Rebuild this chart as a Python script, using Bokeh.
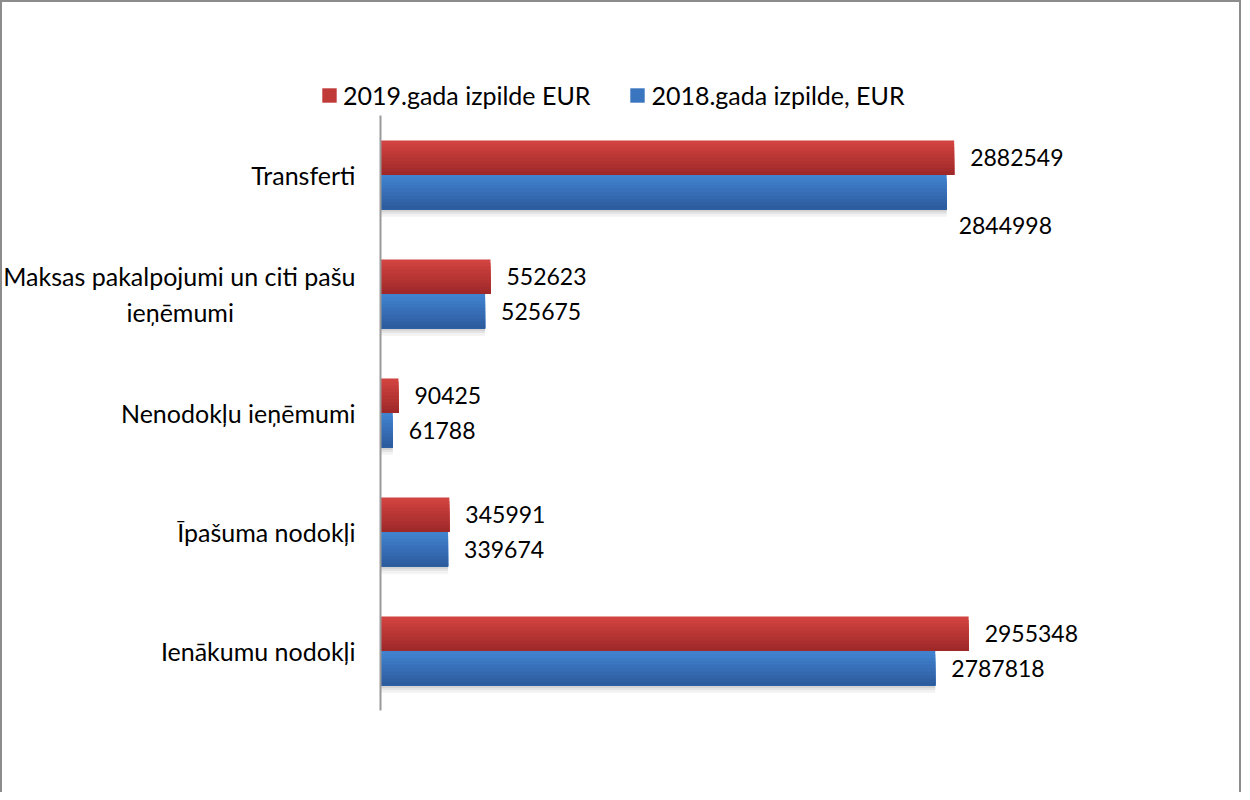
from bokeh.plotting import figure
from bokeh.models import ColumnDataSource, Legend, LegendItem, Range1d, FixedTicker
from bokeh.transform import dodge
from bokeh.core.properties import value
from bokeh.embed import file_html
from bokeh.resources import INLINE

# ---------------- data ----------------
categories = [
    "Transferti",
    "Maksas pakalpojumi un citi pašu\nieņēmumi",
    "Nenodokļu ieņēmumi",
    "Īpašuma nodokļi",
    "Ienākumu nodokļi",
]
values_2019 = [2882549, 552623, 90425, 345991, 2955348]
values_2018 = [2844998, 525675, 61788, 339674, 2787818]
series_names = ["2019.gada izpilde EUR", "2018.gada izpilde, EUR"]

# ---------------- styles ----------------
FONT = "Lato"
red_top, red_bot = (212, 68, 65), (156, 40, 40)
blue_top, blue_bot = (66, 132, 210), (44, 90, 156)
BAR_H = 0.29
N_BANDS = 10
NBSP = "\u00a0"

def mix(c1, c2, t):
    return "#%02x%02x%02x" % tuple(int(round(a + (b - a) * t)) for a, b in zip(c1, c2))

# two-line axis label: second line centred under the first
def centred(label, pad=19):
    lines = label.split("\n")
    if len(lines) == 1:
        return label
    return lines[0] + "\n" + lines[1] + NBSP * pad

n = len(categories)
ypos = [n - 1 - i for i in range(n)]          # first category at the top

src = ColumnDataSource(dict(
    y=ypos,
    v19=values_2019,
    v18=values_2018,
    l19=[str(v) for v in values_2019],
    l18=[str(v) for v in values_2018],
))

W, H = 1241, 792
p = figure(
    width=W, height=H,
    x_range=Range1d(-1909500, 4326500), y_range=Range1d(-1.189, 5.466),
    output_backend="svg", toolbar_location=None,
    min_border_left=0, min_border_right=0, min_border_top=0, min_border_bottom=0,
    border_fill_color=None, background_fill_color=None,
    outline_line_color=None,
    styles={"background-color": "white",
            "box-shadow": "inset 2px 2px 0 #8c8c8c, inset -2px 0 0 #8c8c8c"},
)

# soft shadow under each group
for k, col in enumerate(["#d2d2d2", "#e4e4e4", "#f2f2f2"]):
    off = -BAR_H - 0.02 * (k + 0.5)
    p.hbar(y=dodge("y", off), left=0, right="v18",
           height=0.021, source=src, color=col, line_color=None)

# gradient bars: each band spans from its top edge down to the bar bottom
legend_renderers = {}
for name, col, top, c_top, c_bot in [
    (series_names[0], "v19", BAR_H, red_top, red_bot),
    (series_names[1], "v18", 0.0, blue_top, blue_bot),
]:
    bottom = top - BAR_H
    for k in range(N_BANDS):
        band_top = top - BAR_H * k / N_BANDS
        t = (k + 0.5) / N_BANDS
        r = p.hbar(y=dodge("y", (band_top + bottom) / 2), left=0, right=col,
                   height=band_top - bottom, source=src,
                   color=mix(c_top, c_bot, t), line_color=None)
        if k == N_BANDS // 3:
            legend_renderers[name] = r

# value labels
src.data["xo19"] = [16] * n
src.data["xo18"] = [12, 16, 16, 16, 16]
src.data["yo18"] = [33, 0, 0, 0, 0]
p.text(x="v19", y=dodge("y", BAR_H / 2), text="l19", source=src,
       x_offset="xo19", text_align="left", text_baseline="middle",
       text_font=value(FONT), text_font_size="23px", text_color="black")
p.text(x="v18", y=dodge("y", -BAR_H / 2), text="l18", source=src,
       x_offset="xo18", y_offset="yo18", text_align="left", text_baseline="middle",
       text_font=value(FONT), text_font_size="23px", text_color="black")

# axes
p.xaxis.visible = False
p.xgrid.grid_line_color = None
p.ygrid.grid_line_color = None
yax = p.yaxis[0]
yax.fixed_location = 0
yax.bounds = (-0.5, n - 0.5)
yax.ticker = FixedTicker(ticks=ypos)
yax.major_label_overrides = {yp: centred(c) for yp, c in zip(ypos, categories)}
yax.axis_line_color = "#9a9a9a"
yax.axis_line_width = 2
yax.major_tick_line_color = None
yax.minor_tick_line_color = None
yax.major_tick_out = 0
yax.major_tick_in = 0
yax.major_label_standoff = 25
yax.major_label_text_font = FONT
yax.major_label_text_font_size = "25px"
yax.major_label_text_color = "black"

# legend
legend = Legend(
    items=[LegendItem(label=s, renderers=[legend_renderers[s]]) for s in series_names],
    orientation="horizontal", location=(320, 682),
    glyph_width=18, glyph_height=18, label_standoff=5, spacing=38,
    label_text_font=FONT, label_text_font_size="25px", label_text_color="black",
    label_height=26, padding=0, margin=0,
    border_line_color=None, background_fill_alpha=0,
)
p.add_layout(legend, "center")

open("out.html", "w").write(file_html(p, INLINE))
